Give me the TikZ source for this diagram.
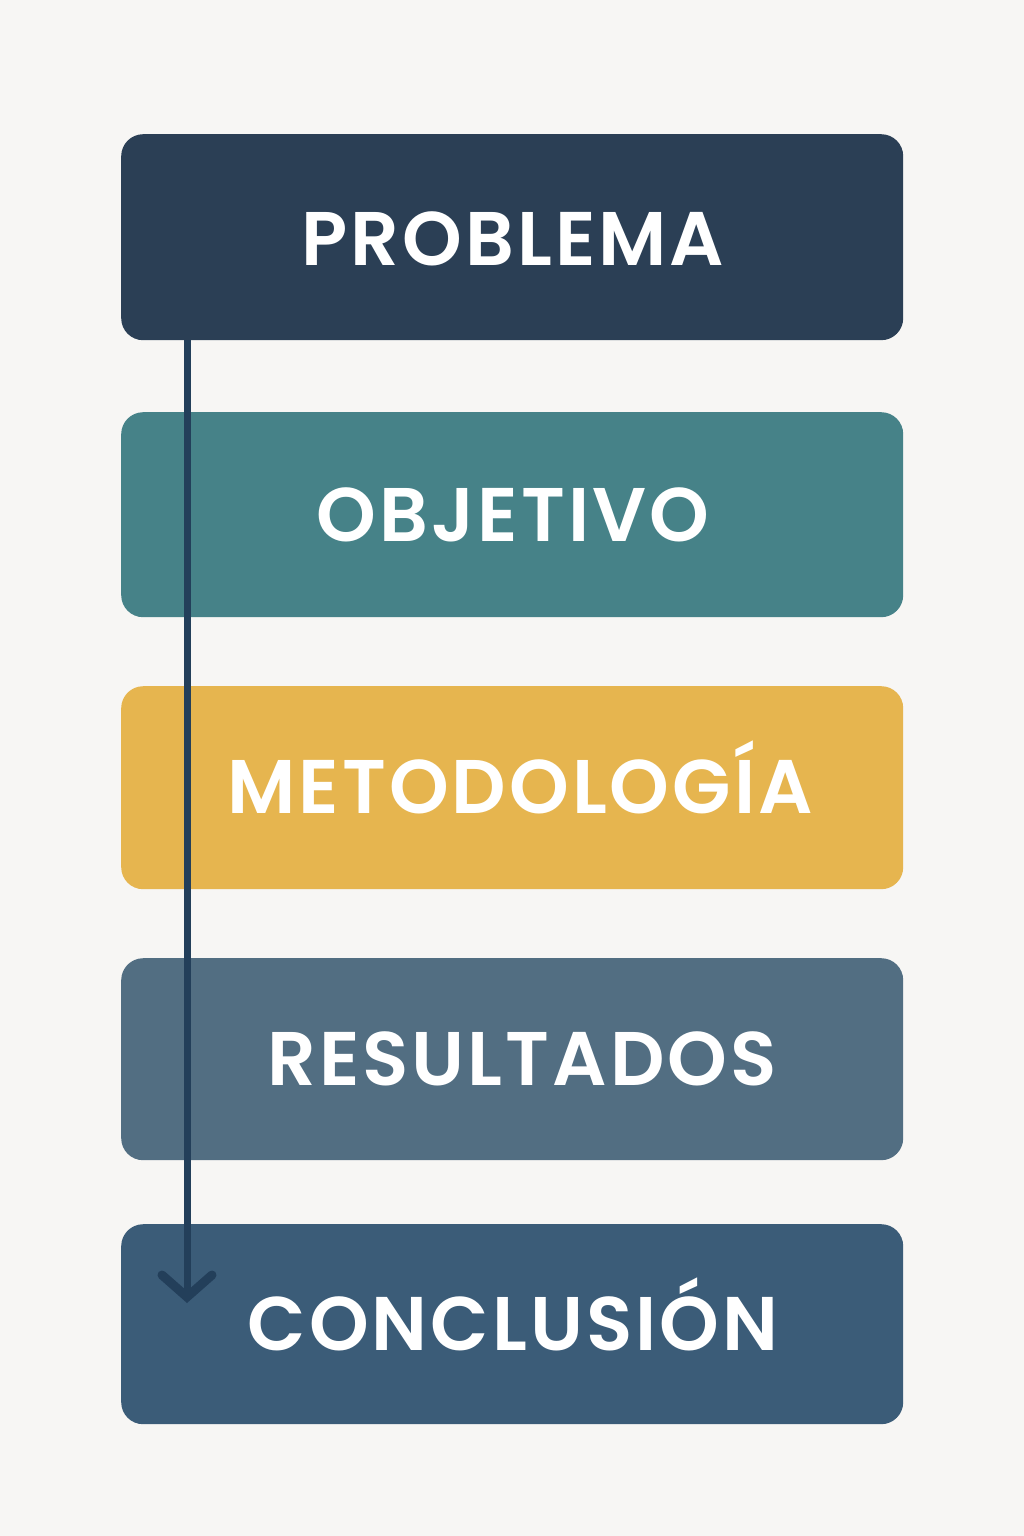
\documentclass[tikz,border=0pt]{standalone}
\usepackage{fontspec}
\setmainfont{Poppins}
\newfontfamily\lblfont{Poppins}[UprightFont=*-SemiBold, LetterSpace=4]
\usetikzlibrary{arrows.meta}
\definecolor{bg}{HTML}{F7F6F4}
\definecolor{cA}{HTML}{2B3F55}
\definecolor{cB}{HTML}{468288}
\definecolor{cC}{HTML}{E6B54F}
\definecolor{cD}{HTML}{526E82}
\definecolor{cE}{HTML}{3B5C78}
\definecolor{lineC}{HTML}{233F5A}
\tikzset{
  stagebox/.style={rounded corners=22pt, minimum width=782pt, inner sep=0pt, anchor=north west},
  lbl/.style={text=white, font=\fontsize{76}{80}\lblfont, anchor=base, inner sep=0pt},
  flowline/.style={draw=lineC, line width=7pt, -{Straight Barb[length=22pt,width=50pt,line width=9pt,line cap=round]}}
}
\begin{document}
\begin{tikzpicture}[x=1pt,y=-1pt]
\fill[bg] (0,0) rectangle (1024,1536);
\useasboundingbox (0,0) rectangle (1024,1536);
\node[stagebox, fill=cA, minimum height=206pt] (p) at (121,134) {};
\node[stagebox, fill=cB, minimum height=205pt] (o) at (121,412) {};
\node[stagebox, fill=cC, minimum height=203pt] (m) at (121,686) {};
\node[stagebox, fill=cD, minimum height=202pt] (r) at (121,958) {};
\node[stagebox, fill=cE, minimum height=200pt] (c) at (121,1224) {};
\node[lbl] (tp) at (513,265) {PROBLEMA};
\node[lbl] (to) at (513,541) {OBJETIVO};
\node[lbl] (tm) at (520,813) {METODOLOGÍA};
\node[lbl] (tr) at (522,1085) {RESULTADOS};
\node[lbl] (tc) at (513,1350) {CONCLUSIÓN};
\coordinate (s) at (187,340);
\coordinate (e) at (187,1303);
\draw[flowline] (s) -- (e);
\end{tikzpicture}
\end{document}
